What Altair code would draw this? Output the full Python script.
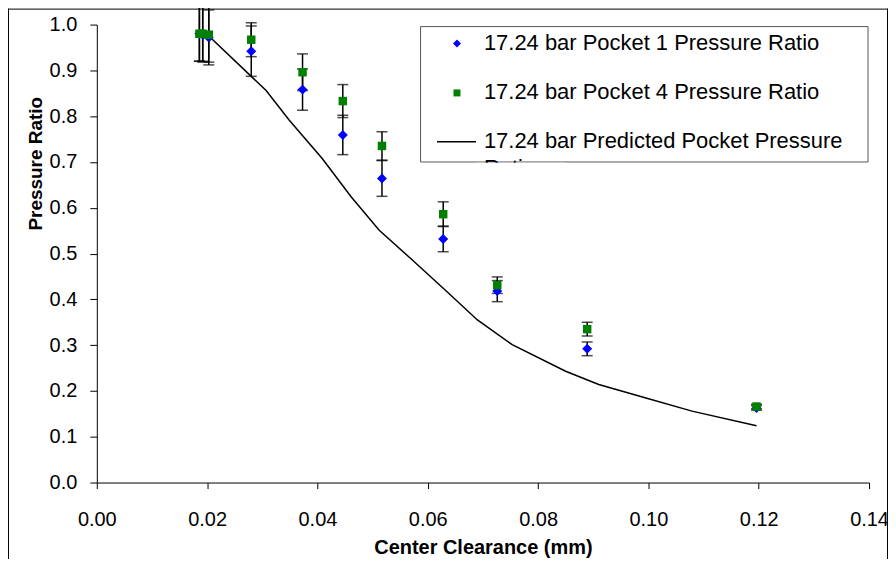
import altair as alt
import pandas as pd

FONT = "Liberation Sans"

# ---- data ----
clearance = [0.0186, 0.0192, 0.0203, 0.0280, 0.0373, 0.0446, 0.0517, 0.0628, 0.0726, 0.0889, 0.1196]
pocket1 = [0.980, 0.978, 0.972, 0.942, 0.858, 0.759, 0.664, 0.532, 0.418, 0.292, 0.163]
pocket1_err = [0.060, 0.060, 0.060, 0.055, 0.045, 0.043, 0.039, 0.028, 0.023, 0.015, 0.005]
pocket4 = [0.980, 0.980, 0.978, 0.967, 0.896, 0.833, 0.735, 0.586, 0.431, 0.335, 0.166]
pocket4_err = [0.060, 0.060, 0.060, 0.037, 0.040, 0.036, 0.031, 0.027, 0.018, 0.015, 0.005]

pred_x = [0.0203, 0.0280, 0.0307, 0.0349, 0.0409, 0.0461, 0.0512, 0.0572, 0.0632,
          0.0690, 0.0753, 0.0850, 0.0910, 0.0994, 0.1079, 0.1196]
pred_y = [0.975, 0.887, 0.856, 0.791, 0.707, 0.624, 0.551, 0.486, 0.420,
          0.355, 0.301, 0.243, 0.214, 0.185, 0.156, 0.124]

x_ticks = [0.00, 0.02, 0.04, 0.06, 0.08, 0.10, 0.12, 0.14]
y_ticks = [0.0, 0.1, 0.2, 0.3, 0.4, 0.5, 0.6, 0.7, 0.8, 0.9, 1.0]

legend_labels = ["17.24 bar Pocket 1 Pressure Ratio",
                 "17.24 bar Pocket 4 Pressure Ratio",
                 "17.24 bar Predicted Pocket Pressure"]
legend_overflow = "Ratio"

x_title = "Center Clearance (mm)"
y_title = "Pressure Ratio"

# ---- tables ----
p1 = pd.DataFrame({"x": clearance, "y": pocket1, "e": pocket1_err})
p4 = pd.DataFrame({"x": clearance, "y": pocket4, "e": pocket4_err})
for d in (p1, p4):
    d["lo"] = d["y"] - d["e"]
    d["hi"] = d["y"] + d["e"]
bars = pd.concat([p1, p4], ignore_index=True)
pred = pd.DataFrame({"x": pred_x, "y": pred_y, "o": range(len(pred_x))})
one = pd.DataFrame({"a": [0]})

xs = alt.Scale(domain=[0, 0.14], nice=False, zero=False)
ys = alt.Scale(domain=[0, 1], nice=False)

X = alt.X("x:Q", scale=xs, axis=alt.Axis(
    values=x_ticks, format=".2f", title=x_title, grid=False, labelFlush=False,
    labelFontSize=20, labelPadding=21, tickSize=6,
    titleFontSize=20, titleFontWeight="bold", titleBaseline="alphabetic", titleY=71,
))
Y = alt.Y("y:Q", scale=ys, axis=alt.Axis(
    values=y_ticks, format=".1f", title=y_title, grid=False, labelFlush=False,
    labelFontSize=20, labelPadding=13, tickSize=7,
    titleFontSize=19, titleFontWeight="bold", titleBaseline="alphabetic",
    titleX=-55, titleY=139, titleAngle=270,
))

line = alt.Chart(pred).mark_line(color="black", strokeWidth=1.5).encode(
    x=X, y=Y, order="o:Q")

err_rule = alt.Chart(bars).mark_rule(color="black", strokeWidth=1.5).encode(
    x=alt.X("x:Q", scale=xs), y=alt.Y("lo:Q", scale=ys), y2="hi:Q")
cap_lo = alt.Chart(bars).mark_tick(color="black", orient="horizontal", size=11, thickness=1.5).encode(
    x=alt.X("x:Q", scale=xs), y=alt.Y("lo:Q", scale=ys))
cap_hi = alt.Chart(bars).mark_tick(color="black", orient="horizontal", size=11, thickness=1.5).encode(
    x=alt.X("x:Q", scale=xs), y=alt.Y("hi:Q", scale=ys))

blue = alt.Chart(p1).mark_point(shape="diamond", filled=True, color="#0000FF", size=100, opacity=1).encode(
    x=alt.X("x:Q", scale=xs), y=alt.Y("y:Q", scale=ys))
green = alt.Chart(p4).mark_point(shape="square", filled=True, color="#008000", size=72, opacity=1).encode(
    x=alt.X("x:Q", scale=xs), y=alt.Y("y:Q", scale=ys))

# ---- chart-area frame (left, top, right) ----
frame_l = alt.Chart(one).mark_rule(color="black", strokeWidth=1).encode(
    x=alt.value(-88.5), y=alt.value(-16), y2=alt.value(540))
frame_t = alt.Chart(one).mark_rule(color="black", strokeWidth=1).encode(
    x=alt.value(-89), x2=alt.value(793), y=alt.value(-15.5))
frame_r = alt.Chart(one).mark_rule(color="black", strokeWidth=1).encode(
    x=alt.value(792.5), y=alt.value(-16), y2=alt.value(540))

# ---- legend ----
leg_box = alt.Chart(one).mark_rect(fill="white", stroke="#555555", strokeWidth=1).encode(
    x=alt.value(324.5), x2=alt.value(773), y=alt.value(2), y2=alt.value(137.7))
leg_over = alt.Chart(pd.DataFrame({"t": [legend_overflow]})).mark_text(
    align="left", baseline="alphabetic", fontSize=22, font=FONT, color="black").encode(
    x=alt.value(388), y=alt.value(151), text="t:N")
leg_cover = alt.Chart(one).mark_rect(fill="white").encode(
    x=alt.value(380), x2=alt.value(470), y=alt.value(138.5), y2=alt.value(165))
leg_diamond = alt.Chart(one).mark_point(shape="diamond", filled=True, color="#0000FF", size=64, opacity=1).encode(
    x=alt.value(361), y=alt.value(19))
leg_square = alt.Chart(one).mark_point(shape="square", filled=True, color="#008000", size=49, opacity=1).encode(
    x=alt.value(361), y=alt.value(68.5))
leg_line = alt.Chart(one).mark_rule(color="black", strokeWidth=1.5).encode(
    x=alt.value(341), x2=alt.value(380), y=alt.value(117.5))
leg_texts = []
for i, lab in enumerate(legend_labels):
    leg_texts.append(
        alt.Chart(pd.DataFrame({"t": [lab]})).mark_text(
            align="left", baseline="middle", fontSize=22, font=FONT, color="black").encode(
            x=alt.value(388), y=alt.value(18.5 + 49.3 * i), text="t:N"))

chart = alt.layer(
    line, err_rule, cap_lo, cap_hi, blue, green,
    frame_l, frame_t, frame_r,
    leg_box, leg_over, leg_cover, leg_diamond, leg_square, leg_line, *leg_texts,
).properties(
    width=774, height=459, autosize="none",
    padding={"left": 89, "top": 16, "right": 19, "bottom": 76},
).configure(
    font=FONT,
).configure_view(
    stroke=None,
).configure_axis(
    domainColor="black", tickColor="black", labelColor="black", titleColor="black",
    labelFont=FONT, titleFont=FONT, domainWidth=1, tickWidth=1,
)

chart.save("out.html", embed_options={"renderer": "svg", "actions": False})
